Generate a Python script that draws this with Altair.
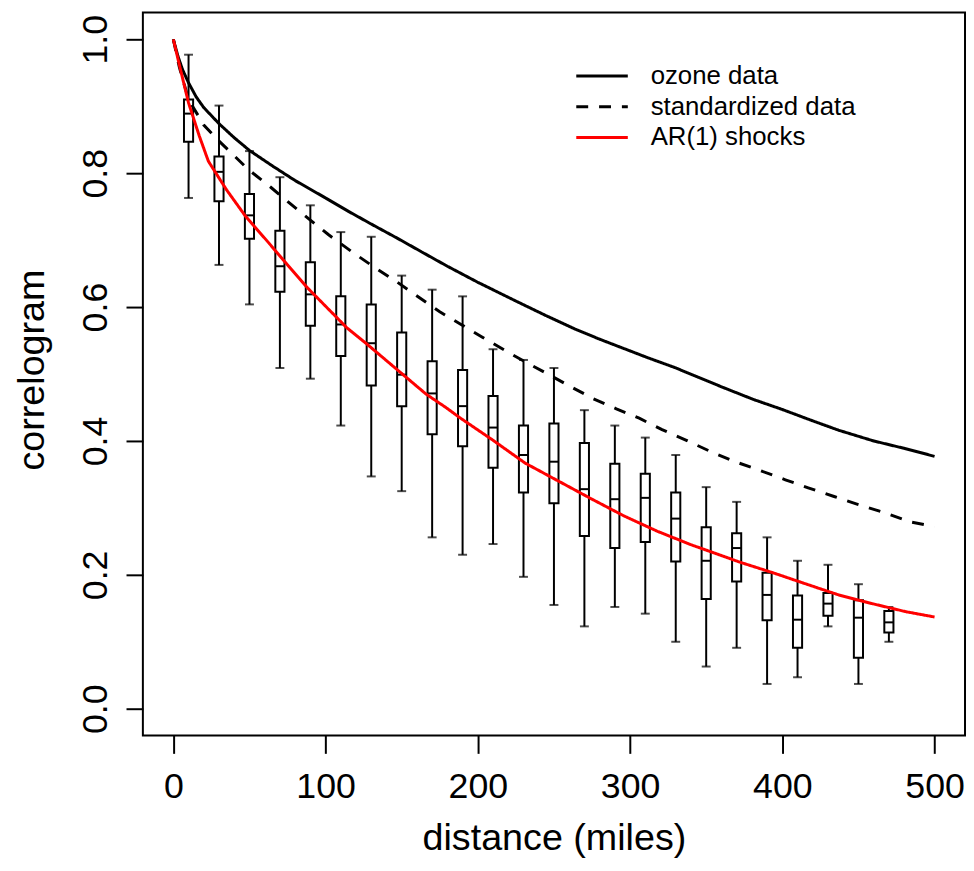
import altair as alt
import pandas as pd

# ---- boxplot summaries (distance bins, miles) ----
box_dist = [10, 30, 50, 70, 90, 110, 130, 150, 170, 190, 210, 230,
            250, 270, 290, 310, 330, 350, 370, 390, 410, 430, 450, 470]
whisk_lo = [0.763, 0.663, 0.604, 0.509, 0.493, 0.423, 0.347, 0.325, 0.256, 0.230, 0.246, 0.197,
            0.155, 0.123, 0.152, 0.142, 0.100, 0.063, 0.091, 0.037, 0.047, 0.123, 0.037, 0.100]
box_q1 = [0.847, 0.758, 0.702, 0.623, 0.572, 0.527, 0.483, 0.452, 0.410, 0.392, 0.360, 0.323,
          0.307, 0.258, 0.240, 0.249, 0.220, 0.164, 0.190, 0.132, 0.091, 0.139, 0.076, 0.114]
box_med = [0.889, 0.802, 0.737, 0.661, 0.619, 0.574, 0.546, 0.499, 0.471, 0.452, 0.420, 0.379,
           0.369, 0.328, 0.313, 0.315, 0.284, 0.221, 0.240, 0.170, 0.133, 0.157, 0.136, 0.129]
box_q3 = [0.910, 0.825, 0.769, 0.714, 0.667, 0.616, 0.604, 0.562, 0.519, 0.506, 0.467, 0.423,
          0.426, 0.397, 0.366, 0.351, 0.323, 0.271, 0.262, 0.203, 0.169, 0.173, 0.162, 0.146]
whisk_hi = [0.977, 0.901, 0.833, 0.794, 0.752, 0.712, 0.705, 0.647, 0.626, 0.616, 0.537, 0.521,
            0.509, 0.446, 0.423, 0.405, 0.379, 0.331, 0.309, 0.256, 0.221, 0.215, 0.186, 0.152]

# ---- fitted correlogram curves ----
ozone_d = [0, 3, 6, 10, 15, 20, 30, 40, 50, 65, 80, 100, 115, 130, 147, 165, 180, 200, 225,
           245, 264, 280, 296, 312, 329, 345, 361, 381, 400, 420, 437, 460, 480, 500]
ozone_v = [1.0, 0.975, 0.955, 0.935, 0.914, 0.898, 0.874, 0.853, 0.834, 0.811, 0.789, 0.763,
           0.743, 0.724, 0.703, 0.680, 0.661, 0.637, 0.609, 0.587, 0.567, 0.552, 0.538, 0.524,
           0.510, 0.495, 0.480, 0.462, 0.447, 0.430, 0.416, 0.400, 0.389, 0.377]

std_d = [0, 4, 10, 20, 30, 40, 49, 64, 77, 90, 102, 117, 133, 146, 161, 175, 189, 203, 218,
         232, 246, 261, 276, 291, 306, 321, 337, 353, 369, 384, 402, 417, 434, 450, 467, 484, 500]
std_v = [1.0, 0.958, 0.910, 0.872, 0.848, 0.826, 0.806, 0.779, 0.754, 0.730, 0.708, 0.683,
         0.658, 0.639, 0.615, 0.593, 0.574, 0.555, 0.535, 0.517, 0.500, 0.481, 0.463, 0.448,
         0.434, 0.417, 0.401, 0.384, 0.369, 0.357, 0.342, 0.330, 0.317, 0.305, 0.293, 0.279, 0.272]

ar_d = [0, 5, 10, 17, 23, 28, 35, 47, 63, 75, 88, 101, 114, 127, 140, 153, 166, 179, 188,
        210, 231, 253, 275, 296, 318, 340, 361, 372, 394, 416, 437, 459, 481, 500]
ar_v = [1.0, 0.952, 0.905, 0.856, 0.818, 0.800, 0.775, 0.737, 0.695, 0.663, 0.629, 0.599,
        0.569, 0.545, 0.520, 0.495, 0.470, 0.450, 0.435, 0.401, 0.367, 0.340, 0.313, 0.288,
        0.265, 0.245, 0.228, 0.219, 0.203, 0.186, 0.170, 0.157, 0.145, 0.137]

series_names = ["ozone data", "standardized data", "AR(1) shocks"]
series_colors = ["black", "black", "#ff0000"]
series_dash = [[1, 0], [12, 11], [1, 0]]

boxes = pd.DataFrame({"d": box_dist, "lo": whisk_lo, "q1": box_q1, "med": box_med,
                      "q3": box_q3, "hi": whisk_hi})
lines = pd.concat([
    pd.DataFrame({"d": ozone_d, "v": ozone_v, "series": series_names[0]}),
    pd.DataFrame({"d": std_d, "v": std_v, "series": series_names[1]}),
    pd.DataFrame({"d": ar_d, "v": ar_v, "series": series_names[2]}),
])

FONT = "Liberation Sans"
x_scale = alt.Scale(domain=[-20, 520], nice=False, zero=False)
y_scale = alt.Scale(domain=[-0.04, 1.04], nice=False, zero=False)

x_axis = alt.Axis(values=[0, 100, 200, 300, 400, 500], tickSize=18, tickWidth=2, tickColor="black",
                  labelFontSize=36, labelFont=FONT, labelColor="black", labelPadding=17,
                  labelFlush=False, domain=False, grid=False, title="distance (miles)",
                  titleFont=FONT, titleFontSize=38, titleFontWeight="normal", titleColor="black",
                  titleBaseline="alphabetic", titleY=115)
y_axis = alt.Axis(values=[0.0, 0.2, 0.4, 0.6, 0.8, 1.0], format=".1f", tickSize=17, tickWidth=2,
                  tickColor="black", labelFontSize=36, labelFont=FONT, labelColor="black",
                  labelAngle=270, labelAlign="center", labelBaseline="alphabetic", labelPadding=20,
                  labelFlush=False, domain=False, grid=False, title="correlogram",
                  titleFont=FONT, titleFontSize=38, titleFontWeight="normal", titleColor="black",
                  titleAngle=270, titleBaseline="alphabetic", titleX=-100, titleY=360)


def X(f):
    return alt.X(f, type="quantitative", scale=x_scale, axis=x_axis)


def Y(f):
    return alt.Y(f, type="quantitative", scale=y_scale, axis=y_axis)


base = alt.Chart(boxes)
whiskers = base.mark_rule(color="black", strokeWidth=2).encode(x=X("d"), y=Y("lo"), y2="hi:Q")
caps_lo = base.mark_tick(orient="horizontal", size=9, thickness=2, color="black").encode(
    x=X("d"), y=Y("lo"))
caps_hi = base.mark_tick(orient="horizontal", size=9, thickness=2, color="black").encode(
    x=X("d"), y=Y("hi"))
rects = base.transform_calculate(x0="datum.d - 3", x1="datum.d + 3").mark_rect(
    fill="white", stroke="black", strokeWidth=2).encode(x=X("x0"), x2="x1:Q", y=Y("q1"), y2="q3:Q")
medians = base.transform_calculate(x0="datum.d - 3", x1="datum.d + 3").mark_rule(
    color="black", strokeWidth=2).encode(x=X("x0"), x2="x1:Q", y=Y("med"))

legend_kw = dict(title=None, orient="none", legendX=450, legendY=51,
                 symbolType="M-3,0H3", symbolSize=300, symbolStrokeWidth=3,
                 labelFont=FONT, labelFontSize=26, labelColor="black", labelOffset=36,
                 labelLimit=0, rowPadding=5, padding=0)
curves = alt.Chart(lines).mark_line(strokeWidth=3).encode(
    x=X("d"), y=Y("v"),
    color=alt.Color("series:N", scale=alt.Scale(domain=series_names, range=series_colors),
                    legend=alt.Legend(**legend_kw)),
    strokeDash=alt.StrokeDash("series:N", scale=alt.Scale(domain=series_names, range=series_dash),
                              legend=alt.Legend(**legend_kw)),
)

chart = alt.layer(whiskers, caps_lo, caps_hi, rects, medians, curves).properties(
    width=829, height=729,
    autosize=alt.AutoSizeParams(type="none"),
    padding={"left": 136, "top": 1, "right": 1, "bottom": 124},
    background="white",
).configure_view(stroke="black", strokeWidth=2)

chart.save("out.html", embed_options={"renderer": "svg", "actions": False})
